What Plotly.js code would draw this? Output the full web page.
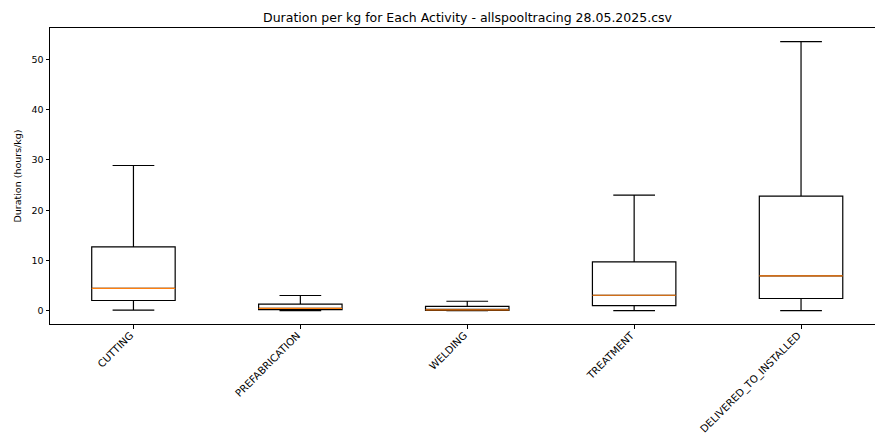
<!DOCTYPE html>
<html>
<head>
<meta charset="utf-8">
<script src="https://cdn.plot.ly/plotly-3.0.1.min.js"></script>
<style>html,body{margin:0;padding:0;background:#fff;}#chart{width:875px;height:440px;}</style>
</head>
<body>
<div id="chart"></div>
<script>
const categories = ["CUTTING", "PREFABRICATION", "WELDING", "TREATMENT", "DELIVERED_TO_INSTALLED"];
const positions = [1, 2, 3, 4, 5];
const lowerWhisker = [0.1, 0.0, 0.0, 0.0, 0.0];
const q1 = [2.0, 0.2, 0.05, 1.0, 2.4];
const median = [4.4, 0.45, 0.15, 3.05, 6.9];
const q3 = [12.7, 1.3, 0.85, 9.7, 22.8];
const upperWhisker = [28.9, 3.0, 1.85, 23.0, 53.6];

const boxTrace = {
  type: 'box',
  x: positions,
  q1: q1,
  median: median,
  q3: q3,
  lowerfence: lowerWhisker,
  upperfence: upperWhisker,
  width: 0.5,
  whiskerwidth: 0.5,
  boxpoints: false,
  line: {color: '#000000', width: 1.2},
  fillcolor: 'rgba(255,255,255,0)',
  hoverinfo: 'skip',
  showlegend: false
};

const medianTrace = {
  type: 'box',
  x: positions,
  q1: median,
  median: median,
  q3: median,
  lowerfence: median,
  upperfence: median,
  width: 0.5,
  whiskerwidth: 0,
  boxpoints: false,
  line: {color: '#ff7f0e', width: 1.2},
  fillcolor: 'rgba(255,255,255,0)',
  hoverinfo: 'skip',
  showlegend: false
};

const layout = {
  width: 875,
  height: 440,
  margin: {l: 49.5, r: 0, t: 28, b: 116},
  paper_bgcolor: '#ffffff',
  plot_bgcolor: '#ffffff',
  font: {family: 'DejaVu Sans', size: 9.5, color: '#000000'},
  title: {
    text: 'Duration per kg for Each Activity - allspooltracing 28.05.2025.csv',
    font: {family: 'DejaVu Sans', size: 12.5, color: '#000000'},
    x: 467.5 / 875,
    xanchor: 'center',
    y: 1 - 18 / 440,
    yanchor: 'middle'
  },
  xaxis: {
    range: [0.5, 0.5 + (875 - 49.5) / 167],
    tickmode: 'array',
    tickvals: positions,
    ticktext: categories,
    tickangle: -45,
    ticks: 'outside',
    ticklen: 3.5,
    tickwidth: 1,
    tickcolor: '#000000',
    ticklabelstandoff: -3,
    ticklabelshift: -3,
    showline: true,
    linecolor: '#000000',
    linewidth: 1,
    mirror: true,
    showgrid: false,
    zeroline: false,
    tickfont: {family: 'DejaVu Sans', size: 10.2, color: '#000000'}
  },
  yaxis: {
    range: [-2.68, 56.3],
    tickmode: 'array',
    tickvals: [0, 10, 20, 30, 40, 50],
    ticks: 'outside',
    ticklen: 3.5,
    tickwidth: 1,
    tickcolor: '#000000',
    showline: true,
    linecolor: '#000000',
    linewidth: 1,
    showgrid: false,
    zeroline: false,
    tickfont: {family: 'DejaVu Sans', size: 9.5, color: '#000000'},
    title: {
      text: 'Duration (hours/kg)',
      font: {family: 'DejaVu Sans', size: 9.5, color: '#000000'},
      standoff: 8
    }
  }
};

Plotly.newPlot('chart', [boxTrace, medianTrace], layout, {displayModeBar: false, staticPlot: true});
</script>
</body>
</html>
